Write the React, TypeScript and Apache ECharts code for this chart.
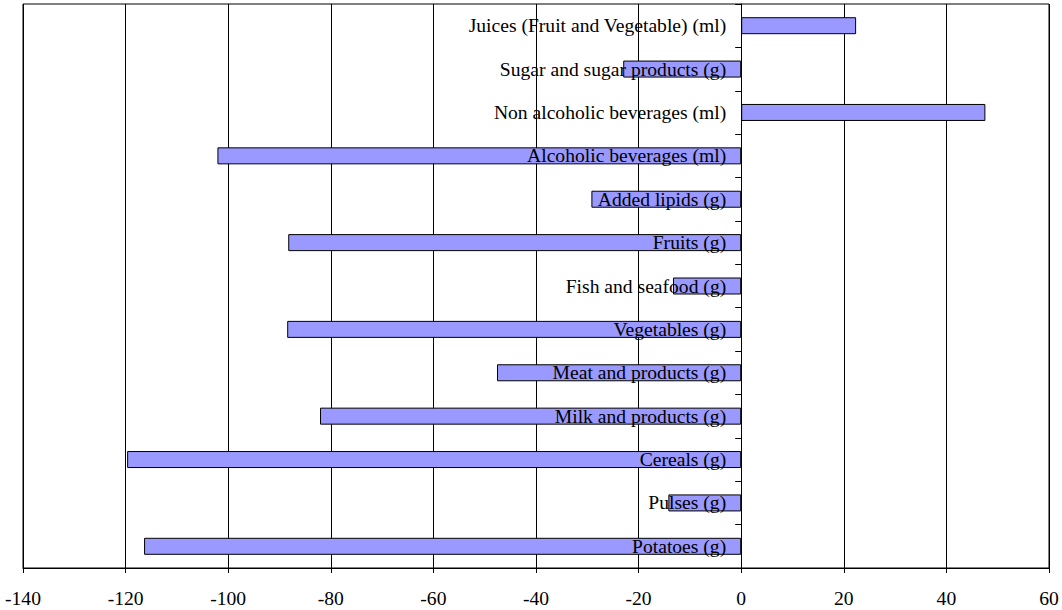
import React, { useEffect, useRef } from "react";
import * as echarts from "echarts";

const categories = [
  "Potatoes (g)",
  "Pulses (g)",
  "Cereals (g)",
  "Milk and products (g)",
  "Meat and products (g)",
  "Vegetables (g)",
  "Fish and seafood (g)",
  "Fruits (g)",
  "Added lipids (g)",
  "Alcoholic beverages (ml)",
  "Non alcoholic beverages (ml)",
  "Sugar and sugar products (g)",
  "Juices (Fruit and Vegetable) (ml)",
];
const values = [-116.4, -14.2, -119.7, -82.1, -47.6, -88.5, -13.3, -88.3, -29.2, -102.1, 47.6, -23.0, 22.4];
const xMin = -140;
const xMax = 60;
const xStep = 20;

const W = 1062;
const H = 610;
const gridLeft = 23;
const gridRight = 13;

export default function App() {
  const ref = useRef<HTMLDivElement>(null);
  useEffect(() => {
    if (!ref.current) return;
    const chart = echarts.init(ref.current, null, { renderer: "svg" });
    const font = "'Liberation Serif', 'Times New Roman', serif";
    const plotW = W - gridLeft - gridRight;
    const zeroOffset = -((0 - xMin) / (xMax - xMin)) * plotW;
    chart.setOption({
      animation: false,
      grid: {
        left: gridLeft,
        right: gridRight,
        top: 4,
        bottom: 42,
        outerBoundsMode: "none",
        containLabel: false,
        show: true,
        borderColor: "#000",
        borderWidth: 1,
        backgroundColor: "transparent",
      },
      xAxis: {
        type: "value",
        min: xMin,
        max: xMax,
        interval: xStep,
        axisLine: { show: true, onZero: false, lineStyle: { color: "#000", width: 1 } },
        axisTick: { show: true, length: 5, lineStyle: { color: "#000" } },
        axisLabel: { color: "#000", fontFamily: font, fontSize: 19.6, margin: 20 },
        splitLine: { show: true, lineStyle: { color: "#000", width: 1 } },
      },
      yAxis: {
        type: "category",
        data: categories,
        position: "left",
        offset: zeroOffset,
        z: 10,
        axisLine: { show: true, onZero: false, lineStyle: { color: "#000", width: 1 } },
        axisTick: { show: true, length: 6, alignWithLabel: false, lineStyle: { color: "#000" } },
        axisLabel: { color: "#000", fontFamily: font, fontSize: 19.6, margin: 15 },
        splitLine: { show: false },
      },
      series: [
        {
          type: "bar",
          data: values,
          barWidth: 17,
          z: 2,
          itemStyle: { color: "#9999FF", borderColor: "#000", borderWidth: 1 },
        },
      ],
    });
    return () => chart.dispose();
  }, []);
  return (
    <div
      ref={ref}
      style={{ position: "absolute", left: 0, top: 0, width: W, height: H, background: "#fff" }}
    />
  );
}
